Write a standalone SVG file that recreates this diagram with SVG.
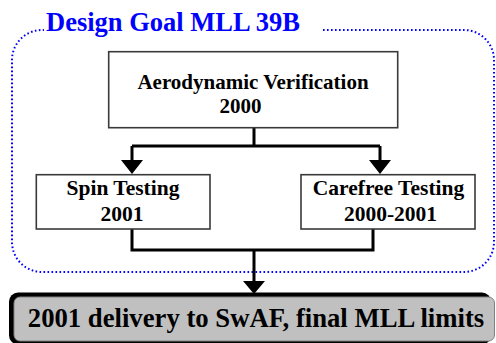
<svg xmlns="http://www.w3.org/2000/svg" width="496" height="343" viewBox="0 0 496 343">
<style>
.box{fill:#fff;stroke:#3a3a3a;stroke-width:1.6}
.t{font-family:"Liberation Serif","Times New Roman",serif;font-weight:bold;fill:#000;text-anchor:middle}
.ln{fill:none;stroke:#000;stroke-width:3}
.ah{fill:#000}
</style>
<rect width="496" height="343" fill="#fff"/>
<g id="group-frame">
<path d="M323 30 H464 A30 30 0 0 1 494 60 V242 A30 30 0 0 1 464 272 H42 A30 30 0 0 1 12 242 V60 A30 30 0 0 1 42 30 H44" fill="none" stroke="#0000ff" stroke-width="2" stroke-dasharray="1.6 2.4"/>
<text x="46" y="31" font-family="Liberation Serif,'Times New Roman',serif" font-weight="bold" font-size="26.5" fill="#0000ff">Design Goal MLL 39B</text>
</g>
<g id="connectors">
<path class="ln" d="M254 128 V146 M132 146 H380 M132 146 V161 M380 146 V161"/>
<polygon class="ah" points="121,160 143,160 132,174"/>
<polygon class="ah" points="369,160 391,160 380,174"/>
<path class="ln" d="M132 222 V250 H373 V222 M254 250 V282"/>
<polygon class="ah" points="243,281 265,281 254,294"/>
</g>
<g id="node-aero">
<rect class="box" x="108.7" y="51.7" width="289" height="76"/>
<text class="t" x="253" y="89" font-size="21">Aerodynamic Verification</text>
<text class="t" x="240.5" y="113" font-size="21">2000</text>
</g>
<g id="node-spin">
<rect class="box" x="36.3" y="174.7" width="173.7" height="54.3"/>
<text class="t" x="123" y="195" font-size="21.5">Spin Testing</text>
<text class="t" x="122" y="220.5" font-size="21.5">2001</text>
</g>
<g id="node-carefree">
<rect class="box" x="301" y="174.7" width="174" height="54.3"/>
<text class="t" x="388.5" y="195" font-size="21.5">Carefree Testing</text>
<text class="t" x="390.5" y="220.5" font-size="21.5">2000-2001</text>
</g>
<g id="node-delivery">
<rect x="9" y="292.5" width="482" height="52" rx="9" fill="#000"/>
<rect x="14" y="297" width="480.5" height="44" rx="6" fill="#c0c0c0" stroke="#808080" stroke-width="1"/>
<text class="t" x="256" y="327" font-size="26.7">2001 delivery to SwAF, final MLL limits</text>
</g>
</svg>
